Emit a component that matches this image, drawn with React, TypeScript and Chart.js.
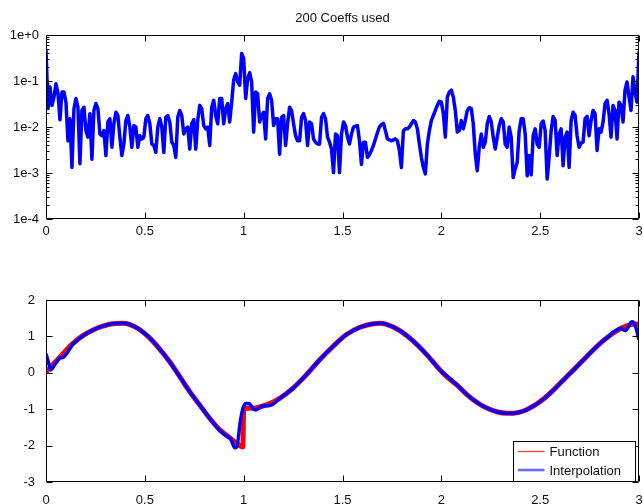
import React, { useEffect, useRef } from 'react';
import { Chart, registerables } from 'chart.js';

Chart.register(...registerables);

const FONT = '"Liberation Sans", Arial, Helvetica, sans-serif';
const TEXT = '#111111';

// ---- Top plot: coefficient magnitudes (log10 of value), evenly spaced on 0..3 ----
const coeffLog10 = [
  -0.31, -1.60, -1.13, -1.53, -1.35, -1.06, -1.27, -1.84, -1.24, -1.24,
  -1.46, -2.30, -1.82, -2.88, -1.60, -1.38, -1.57, -2.80, -1.64, -1.57,
  -2.08, -2.22, -1.71, -2.70, -1.64, -1.49, -1.60, -2.15, -2.19, -2.08,
  -2.62, -1.89, -1.82, -2.44, -1.93, -1.68, -1.75, -2.22, -2.62, -2.37,
  -1.86, -1.75, -2.00, -2.44, -1.97, -2.00, -2.44, -2.19, -2.26, -2.22,
  -1.82, -1.75, -1.93, -2.37, -2.40, -2.55, -2.00, -1.82, -2.00, -2.55,
  -1.79, -1.75, -1.89, -2.33, -2.40, -2.66, -1.79, -1.64, -1.75, -2.15,
  -2.04, -2.00, -2.48, -1.93, -1.84, -2.48,
  -1.86, -1.53, -1.60, -1.97, -2.04, -2.00, -2.40, -1.57, -1.42, -1.75,
  -1.93, -1.38, -1.38, -1.93, -1.60, -1.49, -1.89, -1.46, -0.98, -0.84,
  -1.02, -1.09, -0.40, -0.51, -1.38, -0.95, -0.82, -1.02, -2.11, -1.24,
  -1.28, -1.89, -1.75, -1.68, -2.26, -1.38, -1.28, -1.42, -1.97, -1.82,
  -1.82, -2.59, -1.79, -1.75, -2.40, -1.93, -1.57, -1.64, -1.93, -2.19,
  -2.30, -2.30, -1.79, -1.71, -1.86, -2.40, -1.89, -1.93, -2.26, -2.33,
  -2.37, -2.37, -1.79, -1.71, -1.82, -2.22, -2.33, -2.48, -2.99, -2.15,
  -2.19, -2.99, -2.15, -1.89, -1.97, -2.22, -2.37,
  -2.15, -2.00, -1.98, -1.97, -2.30, -2.81, -2.33, -2.33, -2.66, -2.60,
  -2.51, -2.40, -2.26, -2.12, -2.00, -1.95, -1.92, -2.08, -2.26, -2.28,
  -2.30, -2.28, -2.26, -2.30, -2.51, -2.88, -2.08, -2.04, -2.04, -2.00,
  -1.93, -1.86, -1.89, -2.04, -2.37, -2.66, -2.88, -3.02, -2.37, -2.08,
  -1.86, -1.75, -1.64, -1.53, -1.44, -1.46, -1.71, -2.22, -1.35, -1.24,
  -1.20, -1.35, -1.64, -2.11, -2.08, -1.86, -2.04, -1.86, -1.64, -1.58,
  -1.60, -1.93, -2.59, -2.95, -2.44, -2.15, -2.44, -2.33, -1.93, -1.77,
  -1.89, -2.22, -2.48, -2.22, -1.97, -1.82,
  -1.89, -2.37, -2.44, -2.00, -2.22, -3.10, -2.91, -2.77, -2.08, -1.82,
  -1.82, -2.15, -3.06, -2.62, -3.04, -2.19, -2.04, -2.37, -2.44, -1.93,
  -1.87, -2.08, -3.13, -2.66, -2.08, -1.77, -1.86, -2.62, -2.15, -2.04,
  -2.84, -2.22, -2.11, -2.88, -1.86, -1.68, -1.75, -2.19, -2.44, -2.35,
  -2.33, -1.82, -1.77, -2.19, -1.86, -1.64, -1.71, -2.51, -2.04, -2.11,
  -1.89, -1.49, -1.42, -1.71, -2.22, -1.53, -1.64, -2.26, -1.46, -1.53,
  -1.89, -1.20, -1.02, -1.35, -1.64, -0.91, -1.24, -1.46, -0.36,
];
const coeffX = coeffLog10.map((_, i) => (i * 3) / (coeffLog10.length - 1));
const coeffValues = coeffLog10.map((e) => Math.pow(10, e));

const titleText = '200 Coeffs used';
const xTickValues = [0, 0.5, 1, 1.5, 2, 2.5, 3];
const xTickLabels = ['0', '0.5', '1', '1.5', '2', '2.5', '3'];

// ---- Bottom plot: function and its interpolation ----
const funcX = [0, 0.034, 0.067, 0.10, 0.135, 0.186, 0.236, 0.287, 0.338, 0.389, 0.422, 0.473, 0.524, 0.574, 0.625, 0.676, 0.726, 0.777, 0.828, 0.878, 0.929, 0.963, 0.996, 1.0, 1.047, 1.115, 1.182, 1.25, 1.318, 1.385, 1.453, 1.52, 1.588, 1.655, 1.689, 1.723, 1.79, 1.858, 1.926, 1.993, 2.03, 2.078, 2.128, 2.179, 2.23, 2.28, 2.331, 2.365, 2.416, 2.467, 2.517, 2.568, 2.619, 2.669, 2.72, 2.771, 2.821, 2.872, 2.914, 2.948, 2.99, 3.0];
const funcY = [0.02, 0.22, 0.41, 0.61, 0.80, 1.02, 1.17, 1.28, 1.35, 1.36, 1.33, 1.19, 0.96, 0.66, 0.31, -0.10, -0.51, -0.88, -1.25, -1.56, -1.78, -1.93, -2.04, -0.99, -0.97, -0.88, -0.70, -0.42, -0.05, 0.36, 0.73, 1.05, 1.25, 1.35, 1.36, 1.33, 1.16, 0.87, 0.50, 0.08, -0.12, -0.33, -0.59, -0.81, -0.97, -1.07, -1.11, -1.11, -1.05, -0.91, -0.72, -0.47, -0.19, 0.08, 0.36, 0.64, 0.89, 1.10, 1.24, 1.31, 1.34, 1.33];

const interpX = [0, 0.012, 0.024, 0.046, 0.067, 0.088, 0.118, 0.135, 0.186, 0.236, 0.287, 0.338, 0.389, 0.422, 0.473, 0.524, 0.574, 0.625, 0.676, 0.726, 0.777, 0.828, 0.878, 0.91, 0.935, 0.955, 0.965, 0.983, 0.997, 1.012, 1.027, 1.045, 1.061, 1.08, 1.098, 1.132, 1.182, 1.25, 1.318, 1.385, 1.453, 1.52, 1.588, 1.655, 1.689, 1.723, 1.79, 1.858, 1.926, 1.993, 2.01, 2.03, 2.078, 2.128, 2.179, 2.23, 2.28, 2.331, 2.365, 2.416, 2.467, 2.517, 2.568, 2.619, 2.669, 2.72, 2.771, 2.821, 2.838, 2.872, 2.906, 2.931, 2.965, 2.982, 3.0];
const interpY = [0.52, 0.30, 0.08, 0.24, 0.40, 0.43, 0.64, 0.78, 1.01, 1.17, 1.28, 1.35, 1.36, 1.33, 1.19, 0.96, 0.66, 0.31, -0.10, -0.51, -0.88, -1.25, -1.58, -1.72, -1.82, -2.06, -2.04, -1.34, -0.97, -0.84, -0.84, -0.97, -1.02, -0.96, -0.91, -0.90, -0.71, -0.42, -0.05, 0.36, 0.73, 1.05, 1.25, 1.35, 1.36, 1.33, 1.16, 0.87, 0.50, 0.08, -0.01, -0.10, -0.33, -0.59, -0.81, -0.97, -1.07, -1.11, -1.11, -1.05, -0.91, -0.72, -0.47, -0.19, 0.08, 0.36, 0.64, 0.90, 0.96, 1.12, 1.22, 1.16, 1.40, 1.28, 0.91];

const legendLabels = ['Function', 'Interpolation'];
const bottomYMin = -3;
const bottomYMax = 2;

const W = 643;
const H = 252;

function framePlugin(logMinor: boolean) {
  return {
    id: 'frameTicks',
    afterDatasetsDraw(chart: any) {
      const { ctx, chartArea: a, scales } = chart;
      const xs = scales.x;
      const ys = scales.y;
      const L = Math.round(a.left) + 0.5;
      const R = Math.round(a.right) - 0.5;
      const T = Math.round(a.top) + 0.5;
      const B = Math.round(a.bottom) - 0.5;
      ctx.save();
      ctx.strokeStyle = '#000';
      ctx.lineWidth = 1;
      ctx.beginPath();
      ctx.rect(L, T, R - L, B - T);
      for (const t of xs.ticks) {
        const p = Math.round(xs.getPixelForValue(t.value)) + 0.5;
        ctx.moveTo(p, B);
        ctx.lineTo(p, B - 6);
        ctx.moveTo(p, T);
        ctx.lineTo(p, T + 6);
      }
      if (logMinor) {
        const eMin = Math.round(Math.log10(ys.min));
        const eMax = Math.round(Math.log10(ys.max));
        for (let e = eMin; e <= eMax; e++) {
          for (let k = 1; k <= 9; k++) {
            const v = k * Math.pow(10, e);
            if (v < ys.min * 0.999 || v > ys.max * 1.001) continue;
            const len = k === 1 ? 6 : 3;
            const p = Math.round(ys.getPixelForValue(v)) + 0.5;
            ctx.moveTo(L, p);
            ctx.lineTo(L + len, p);
            ctx.moveTo(R, p);
            ctx.lineTo(R - len, p);
          }
        }
      } else {
        for (const t of ys.ticks) {
          const p = Math.round(ys.getPixelForValue(t.value)) + 0.5;
          ctx.moveTo(L, p);
          ctx.lineTo(L + 6, p);
          ctx.moveTo(R, p);
          ctx.lineTo(R - 6, p);
        }
      }
      ctx.stroke();
      ctx.restore();
    },
  };
}

const titlePlugin = {
  id: 'plotTitle',
  afterDraw(chart: any) {
    const { ctx, chartArea: a } = chart;
    ctx.save();
    ctx.fillStyle = TEXT;
    ctx.font = `13px ${FONT}`;
    ctx.textAlign = 'center';
    ctx.textBaseline = 'middle';
    ctx.fillText(titleText, (a.left + a.right) / 2, 18);
    ctx.restore();
  },
};

const legendPlugin = {
  id: 'boxLegend',
  afterDraw(chart: any) {
    const { ctx, chartArea: a } = chart;
    const right = Math.round(a.right) - 3.5;
    const bottom = Math.round(a.bottom) - 0.5;
    const left = right - 122;
    const top = bottom - 40;
    ctx.save();
    ctx.fillStyle = '#fff';
    ctx.fillRect(left, top, right - left, bottom - top);
    ctx.strokeStyle = '#000';
    ctx.lineWidth = 1;
    ctx.strokeRect(left, top, right - left, bottom - top);
    const styles = [
      { color: 'rgba(255,40,40,0.9)', width: 1.3, y: top + 10 },
      { color: 'rgba(90,90,255,0.9)', width: 2.6, y: top + 28.5 },
    ];
    ctx.font = `13px ${FONT}`;
    ctx.textAlign = 'left';
    ctx.textBaseline = 'middle';
    styles.forEach((s, i) => {
      ctx.beginPath();
      ctx.strokeStyle = s.color;
      ctx.lineWidth = s.width;
      ctx.moveTo(left + 4.5, s.y);
      ctx.lineTo(left + 31, s.y);
      ctx.stroke();
      ctx.fillStyle = TEXT;
      ctx.fillText(legendLabels[i], left + 36, s.y + 1);
    });
    ctx.restore();
  },
};

function logLabel(value: number) {
  const e = Math.log10(value);
  const r = Math.round(e);
  if (Math.abs(e - r) > 1e-6) return '';
  return '1e' + (r >= 0 ? '+' : '-') + Math.abs(r);
}

function xLabel(value: number) {
  const i = xTickValues.findIndex((v) => Math.abs(v - value) < 1e-9);
  return i >= 0 ? xTickLabels[i] : '';
}

const tickFont = { family: FONT, size: 13 };

export default function App() {
  const topRef = useRef<HTMLCanvasElement | null>(null);
  const botRef = useRef<HTMLCanvasElement | null>(null);

  useEffect(() => {
    Chart.defaults.font.family = FONT;
    Chart.defaults.font.size = 13;
    Chart.defaults.color = TEXT;

    const xAxis = (height: number, padding: number) => ({
      type: 'linear',
      min: 0,
      max: 3,
      afterFit: (s: any) => {
        s.height = height;
        s.paddingLeft = 0;
        s.paddingRight = 0;
      },
      afterBuildTicks: (s: any) => { s.ticks = xTickValues.map((v) => ({ value: v })); },
      grid: { display: false, drawTicks: false },
      border: { display: false },
      ticks: { padding, color: TEXT, font: tickFont, maxRotation: 0, autoSkip: false, callback: (v: any) => xLabel(Number(v)) },
    });

    const yFit = (s: any) => {
      s.width = 46;
      s.paddingTop = 0;
      s.paddingBottom = 0;
    };

    const top = new Chart(topRef.current as HTMLCanvasElement, {
      type: 'line',
      data: {
        datasets: [
          {
            label: 'coeffs',
            data: coeffX.map((x, i) => ({ x, y: coeffValues[i] })),
            borderColor: '#0000ff',
            borderWidth: 3.5,
            pointRadius: 0,
            borderJoinStyle: 'round',
            fill: false,
            tension: 0,
          },
        ],
      },
      options: {
        responsive: false,
        animation: false,
        events: [],
        layout: { padding: { top: 35, right: 4, left: 0, bottom: 0 } },
        plugins: { legend: { display: false }, tooltip: { enabled: false }, title: { display: false } },
        scales: {
          x: xAxis(33, 5),
          y: {
            type: 'logarithmic',
            min: 1e-4,
            max: 1,
            afterFit: yFit,
            grid: { display: false, drawTicks: false },
            border: { display: false },
            ticks: { padding: 7, color: TEXT, font: tickFont, autoSkip: false, callback: (v: any) => logLabel(Number(v)) },
          },
        },
      } as any,
      plugins: [framePlugin(true), titlePlugin],
    });

    const bottom = new Chart(botRef.current as HTMLCanvasElement, {
      type: 'line',
      data: {
        datasets: [
          {
            label: legendLabels[0],
            data: funcX.map((x, i) => ({ x, y: funcY[i] })),
            borderColor: '#ff0000',
            borderWidth: 5,
            pointRadius: 0,
            borderJoinStyle: 'round',
            cubicInterpolationMode: 'monotone',
            fill: false,
            order: 1,
          },
          {
            label: legendLabels[1],
            data: interpX.map((x, i) => ({ x, y: interpY[i] })),
            borderColor: '#0000ff',
            borderWidth: 3.5,
            pointRadius: 0,
            borderJoinStyle: 'round',
            cubicInterpolationMode: 'monotone',
            fill: false,
            order: 0,
          },
        ],
      },
      options: {
        responsive: false,
        animation: false,
        events: [],
        layout: { padding: { top: 48, right: 4, left: 0, bottom: 0 } },
        plugins: { legend: { display: false }, tooltip: { enabled: false }, title: { display: false } },
        scales: {
          x: xAxis(22, 11),
          y: {
            type: 'linear',
            min: bottomYMin,
            max: bottomYMax,
            afterFit: yFit,
            grid: { display: false, drawTicks: false },
            border: { display: false },
            ticks: { stepSize: 1, padding: 11, color: TEXT, font: tickFont, autoSkip: false },
          },
        },
      } as any,
      plugins: [framePlugin(false), legendPlugin],
    });

    return () => {
      top.destroy();
      bottom.destroy();
    };
  }, []);

  return (
    <div style={{ position: 'absolute', left: 0, top: 0, width: W, height: 2 * H, background: '#fff' }}>
      <canvas ref={topRef} width={W} height={H} style={{ display: 'block' }} />
      <canvas ref={botRef} width={W} height={H} style={{ display: 'block' }} />
    </div>
  );
}
